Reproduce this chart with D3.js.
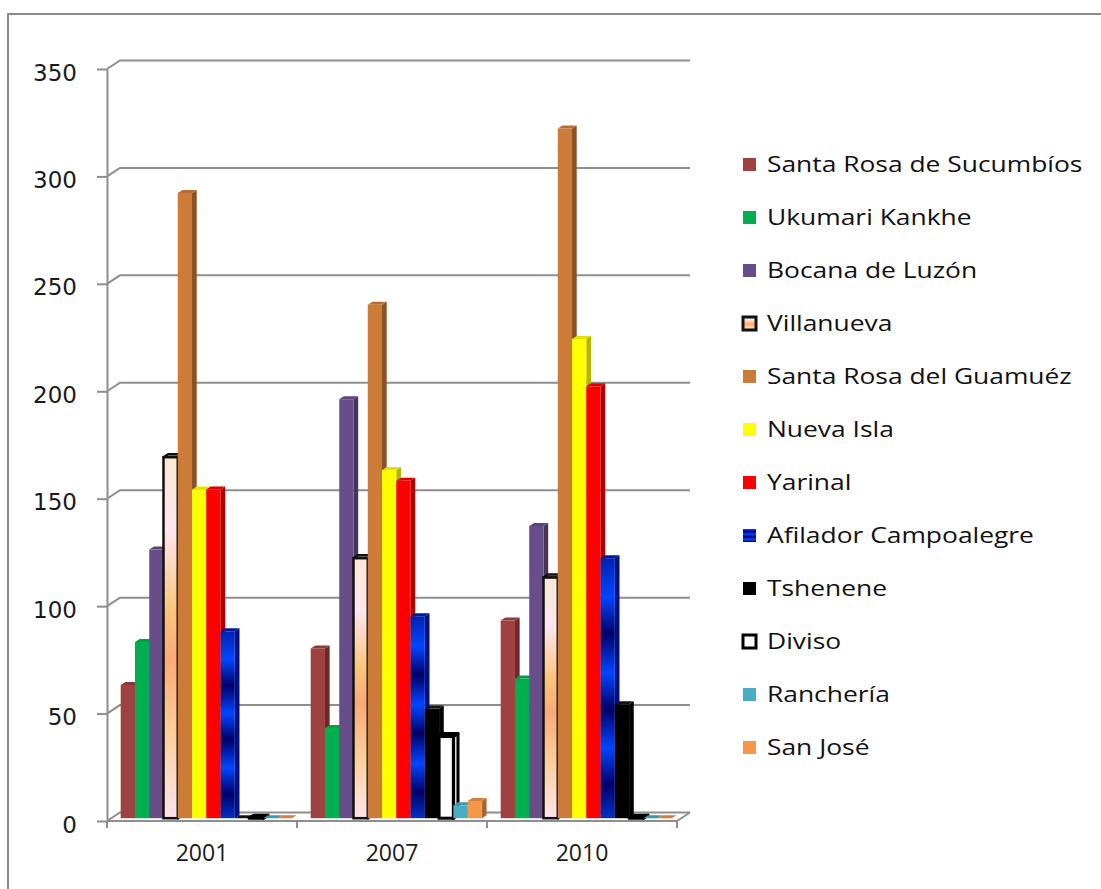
<!DOCTYPE html>
<html>
<head>
<meta charset="utf-8">
<script src="https://cdn.jsdelivr.net/npm/d3@7"></script>
<style>
  body { margin: 0; background: #fff; }
  svg { display: block; }
</style>
</head>
<body>
<div id="chart"></div>
<script>
// categories and series
var categories = ["2001", "2007", "2010"];
var seriesNames = ["Santa Rosa de Sucumbíos", "Ukumari Kankhe", "Bocana de Luzón", "Villanueva",
                   "Santa Rosa del Guamuéz", "Nueva Isla", "Yarinal", "Afilador Campoalegre",
                   "Tshenene", "Diviso", "Ranchería", "San José"];
// values per year, same order as seriesNames
var values2001 = [62, 82, 125, 168, 291, 153, 153, 87, 0, 0, 0, 0];
var values2007 = [79, 42, 195, 121, 239, 162, 157, 94, 51, 38, 6, 8];
var values2010 = [92, 65, 136, 112, 321, 223, 201, 121, 53, 0, 0, 0];
var yTicks = [0, 50, 100, 150, 200, 250, 300, 350];

var valuesByYear = [values2001, values2007, values2010];

// look of each series: front, top, side fills and outline
var styles = [
  {front: "#9e4140", top: "#8c3938", side: "#6c2b2a"},
  {front: "#00b050", top: "#00a048", side: "#007a37"},
  {front: "#674e88", top: "#5b4579", side: "#45355c"},
  {front: "url(#villa)", top: "#cdb79d", side: "#a88f77", stroke: "#111", sw: 2.5},
  {front: "#cd7b38", top: "#b96e31", side: "#8a5224"},
  {front: "#ffff00", top: "#e3e300", side: "#b5b500"},
  {front: "#ff0000", top: "#dd0000", side: "#b00000"},
  {front: "url(#blue)", top: "#0018a0", side: "#001080"},
  {front: "#000000", top: "#141414", side: "#000000"},
  {front: "#ffffff", top: "#ffffff", side: "#d8d8d8", stroke: "#000", sw: 3},
  {front: "#4bacc6", top: "#3f97ae", side: "#33798c"},
  {front: "#f79646", top: "#d2803c", side: "#a9662f"}
];

var width = 1101, height = 889;

// floor corners of the 3d box (front edge) and depth direction
var X0 = 107, X1 = 677;
var DX = 13, DY = -8.5;
var bx = DX * 0.33, by = DY * 0.33;     // bars sit a third of the way back
var bdx = DX * 0.36, bdy = DY * 0.36;   // bar depth

var svg = d3.select("#chart").append("svg")
    .attr("width", width)
    .attr("height", height);

var defs = svg.append("defs");

var villa = defs.append("linearGradient").attr("id", "villa")
    .attr("x1", 0).attr("y1", 0).attr("x2", 0).attr("y2", 1);
[[0, "#fde8d4"], [0.2, "#ffe6ef"], [0.42, "#fdc47c"], [0.56, "#fbaa78"],
 [0.76, "#fdcd98"], [0.9, "#fedccb"], [1, "#ffe3ea"]].forEach(function(s) {
  villa.append("stop").attr("offset", s[0]).attr("stop-color", s[1]);
});

var blue = defs.append("linearGradient").attr("id", "blue")
    .attr("x1", 0).attr("y1", 0).attr("x2", 0).attr("y2", 1);
[[0, "#0022b0"], [0.15, "#0046ff"], [0.29, "#000068"], [0.44, "#0046ff"],
 [0.58, "#000068"], [0.73, "#0046ff"], [0.87, "#000068"], [1, "#0032c8"]].forEach(function(s) {
  blue.append("stop").attr("offset", s[0]).attr("stop-color", s[1]);
});

var legendBlue = defs.append("linearGradient").attr("id", "legendBlue")
    .attr("x1", 0).attr("y1", 0).attr("x2", 0).attr("y2", 1);
[[0, "#0046ff"], [0.2, "#000080"], [0.4, "#0046ff"], [0.6, "#000080"], [0.8, "#0046ff"], [1, "#000080"]].forEach(function(s) {
  legendBlue.append("stop").attr("offset", s[0]).attr("stop-color", s[1]);
});

// outer chart border
svg.append("rect")
    .attr("x", 8).attr("y", 14)
    .attr("width", 1200).attr("height", 1000)
    .attr("fill", "none")
    .attr("stroke", "#8a8a8a")
    .attr("stroke-width", 2);

var x = d3.scaleBand().domain(categories).range([X0, X1]);
var xs = d3.scaleBand().domain(d3.range(seriesNames.length))
    .range([0, x.bandwidth()])
    .paddingInner(0).paddingOuter(0.66);
var y = d3.scaleLinear().domain([0, 350]).range([821, 69]);

var gridColor = "#8e8e8e";

// gridlines on the back wall with the little slant on the side wall
svg.append("g").selectAll("path")
    .data(yTicks)
    .enter()
    .append("path")
    .attr("d", function(d) {
      return "M" + X0 + "," + y(d) + "L" + (X0 + DX) + "," + (y(d) + DY) +
             "H" + (X1 + DX);
    })
    .attr("fill", "none")
    .attr("stroke", gridColor)
    .attr("stroke-width", 2);

// right edge of the floor
svg.append("line")
    .attr("x1", X1).attr("y1", y(0))
    .attr("x2", X1 + DX).attr("y2", y(0) + DY)
    .attr("stroke", gridColor)
    .attr("stroke-width", 2);

// bars
var bars = svg.append("g");
categories.forEach(function(cat, ci) {
  valuesByYear[ci].forEach(function(v, si) {
    var st = styles[si];
    var xl = x(cat) + xs(si) + bx;
    var xr = xl + xs.bandwidth();
    var yb = y(0) + by;
    var yt = y(v) + by;
    var g = bars.append("g");
    var stroke = st.stroke || "none";
    var sw = st.sw || 0;
    // side face
    g.append("path")
        .attr("d", "M" + xr + "," + yb + "L" + (xr + bdx) + "," + (yb + bdy) +
                   "L" + (xr + bdx) + "," + (yt + bdy) + "L" + xr + "," + yt + "Z")
        .attr("fill", st.side)
        .attr("stroke", stroke).attr("stroke-width", sw).attr("stroke-linejoin", "round");
    // top face
    g.append("path")
        .attr("d", "M" + xl + "," + yt + "L" + (xl + bdx) + "," + (yt + bdy) +
                   "L" + (xr + bdx) + "," + (yt + bdy) + "L" + xr + "," + yt + "Z")
        .attr("fill", st.top)
        .attr("stroke", stroke).attr("stroke-width", sw).attr("stroke-linejoin", "round");
    // front face
    if (v > 0) {
      g.append("rect")
          .attr("x", xl).attr("y", yt)
          .attr("width", xr - xl).attr("height", yb - yt)
          .attr("fill", st.front)
          .attr("stroke", stroke).attr("stroke-width", sw);
    }
  });
});

// value axis
var yAxis = svg.append("g")
    .attr("transform", "translate(" + X0 + ",0)")
    .call(d3.axisLeft(y).tickValues(yTicks).tickSize(10).tickSizeOuter(0).tickPadding(20));
yAxis.select(".domain").attr("stroke", gridColor).attr("stroke-width", 2);
yAxis.selectAll(".tick line").attr("stroke", gridColor).attr("stroke-width", 2);
yAxis.selectAll("text")
    .attr("dy", "0.48em")
    .style("font-family", "'DejaVu Sans', sans-serif")
    .style("font-size", "23px")
    .attr("fill", "#1a1a1a");

// category axis: boundary ticks and centred labels
svg.append("line")
    .attr("x1", X0).attr("y1", y(0)).attr("x2", X1).attr("y2", y(0))
    .attr("stroke", gridColor).attr("stroke-width", 2);
svg.append("g").selectAll("line")
    .data(categories.map(function(c) { return x(c); }).concat([X1]))
    .enter()
    .append("line")
    .attr("x1", function(d) { return d; }).attr("x2", function(d) { return d; })
    .attr("y1", y(0)).attr("y2", y(0) + 7)
    .attr("stroke", gridColor).attr("stroke-width", 2);

var xAxis = svg.append("g")
    .attr("transform", "translate(0," + y(0) + ")")
    .call(d3.axisBottom(x).tickSize(0).tickPadding(24));
xAxis.select(".domain").remove();
xAxis.selectAll("text")
    .style("font-family", "'Open Sans', sans-serif")
    .style("font-size", "23px")
    .attr("fill", "#1a1a1a");

// legend
var legend = svg.append("g").selectAll("g")
    .data(seriesNames)
    .enter()
    .append("g")
    .attr("transform", function(d, i) { return "translate(743," + (172 + i * 53) + ")"; });

legend.append("rect")
    .attr("x", 0).attr("y", -14)
    .attr("width", 13).attr("height", 13)
    .attr("fill", function(d, i) { return i == 7 ? "url(#legendBlue)" : styles[i].front; })
    .attr("stroke", function(d, i) { return styles[i].stroke || "none"; })
    .attr("stroke-width", function(d, i) { return styles[i].stroke ? 3 : 0; });

// the original legend type is wide, so stretch it a little sideways
legend.append("text")
    .attr("transform", "translate(24,0) scale(1.2,1)")
    .text(function(d) { return d; })
    .style("font-family", "'Open Sans', sans-serif")
    .style("font-size", "22px")
    .attr("fill", "#111");
</script>
</body>
</html>
